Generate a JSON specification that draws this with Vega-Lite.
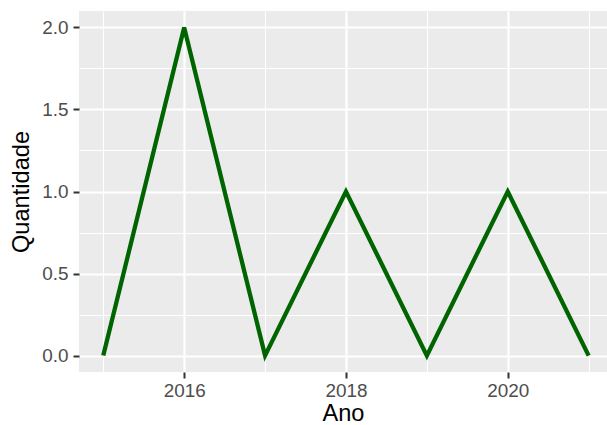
{
  "$schema": "https://vega.github.io/schema/vega-lite/v6.json",
  "width": 528,
  "height": 361,
  "autosize": {"type": "none"},
  "padding": {"left": 79, "top": 11, "right": 0, "bottom": 53},
  "background": "white",
  "config": {
    "view": {"fill": "#EBEBEB", "stroke": null},
    "font": "Liberation Sans",
    "axis": {
      "labelFont": "Liberation Sans",
      "titleFont": "Liberation Sans",
      "labelFontSize": 18.9,
      "titleFontSize": 23.6,
      "labelColor": "#4D4D4D",
      "titleColor": "#000000",
      "titleFontWeight": "normal",
      "tickColor": "#333333",
      "tickSize": 6,
      "tickWidth": 2,
      "domain": false,
      "gridColor": "#FFFFFF",
      "gridWidth": 2.2
    }
  },
  "data": {
    "values": [
      {"Ano": 2015, "Quantidade": 0},
      {"Ano": 2016, "Quantidade": 2},
      {"Ano": 2017, "Quantidade": 0},
      {"Ano": 2018, "Quantidade": 1},
      {"Ano": 2019, "Quantidade": 0},
      {"Ano": 2020, "Quantidade": 1},
      {"Ano": 2021, "Quantidade": 0}
    ]
  },
  "layer": [
    {
      "mark": {"type": "point", "opacity": 0},
      "encoding": {
        "x": {
          "field": "Ano", "type": "quantitative",
          "scale": {"domain": [2014.7, 2021.227], "nice": false, "zero": false},
          "axis": {"orient": "top", "values": [2015, 2017, 2019, 2021], "grid": true, "gridWidth": 1.1, "labels": false, "ticks": false, "title": null}
        },
        "y": {
          "field": "Quantidade", "type": "quantitative",
          "scale": {"domain": [-0.1, 2.1], "nice": false, "zero": false},
          "axis": {"orient": "right", "values": [0.25, 0.75, 1.25, 1.75], "grid": true, "gridWidth": 1.1, "labels": false, "ticks": false, "title": null}
        }
      }
    },
    {
      "mark": {"type": "line", "color": "#006400", "strokeWidth": 4.3},
      "encoding": {
        "x": {
          "field": "Ano", "type": "quantitative",
          "axis": {"orient": "bottom", "values": [2016, 2018, 2020], "format": "d", "grid": true, "labelPadding": 3, "titlePadding": 2, "title": "Ano"}
        },
        "y": {
          "field": "Quantidade", "type": "quantitative",
          "axis": {"orient": "left", "values": [0, 0.5, 1, 1.5, 2], "format": ".1f", "grid": true, "labelPadding": 5, "titlePadding": 8, "title": "Quantidade"}
        }
      }
    }
  ],
  "resolve": {"axis": {"x": "independent", "y": "independent"}}
}
